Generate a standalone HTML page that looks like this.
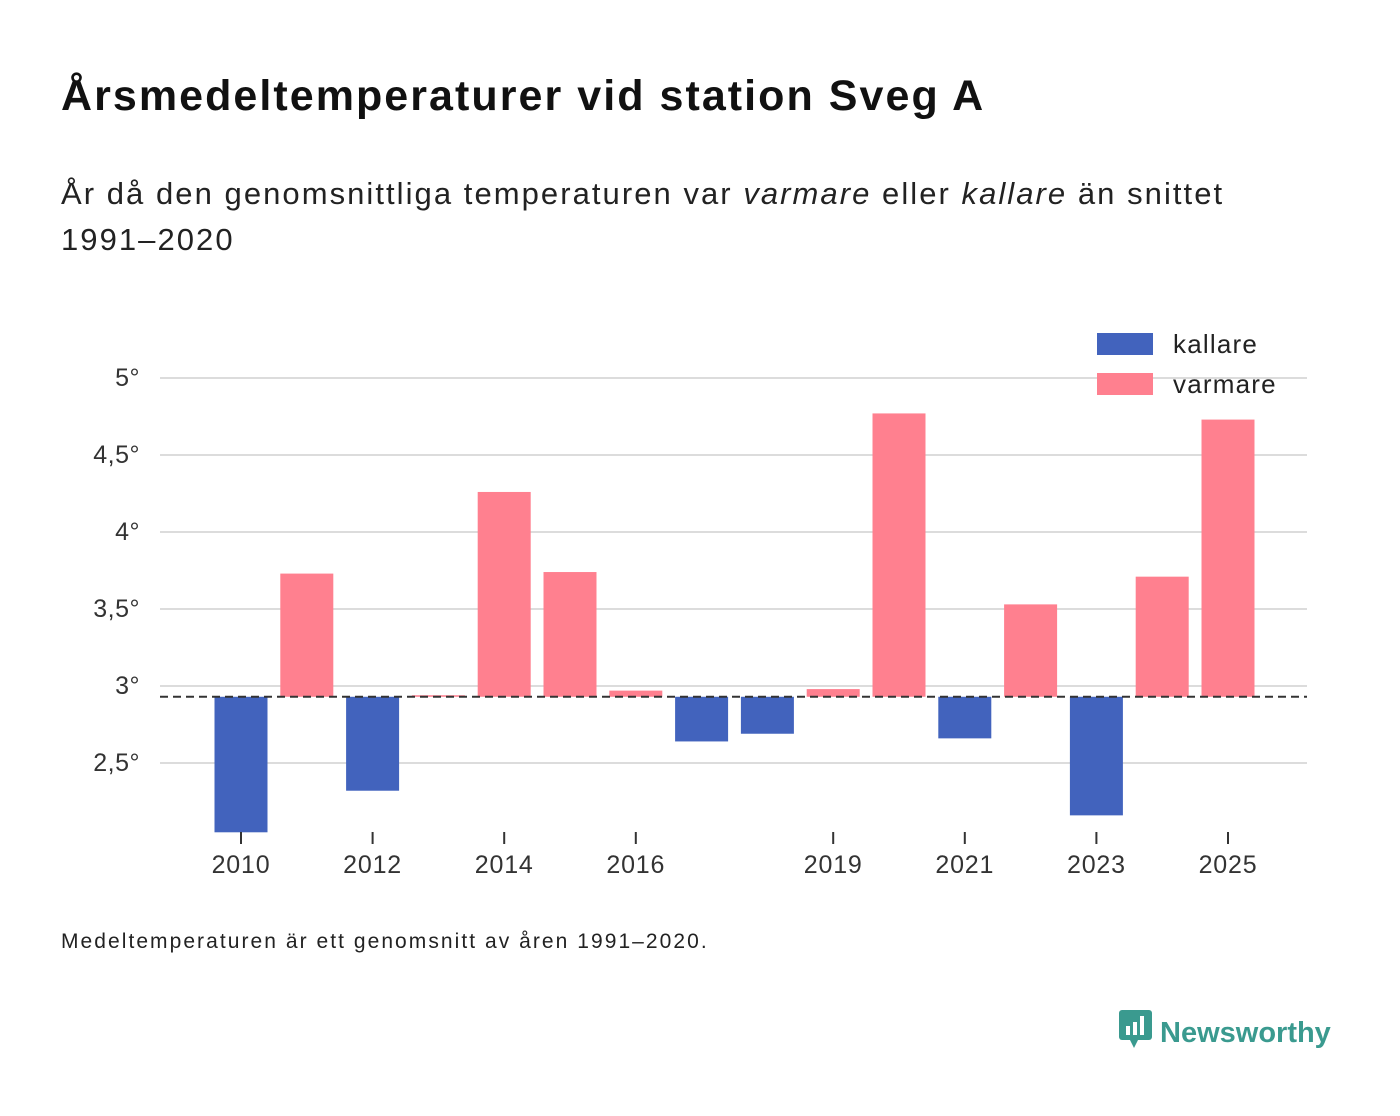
<!DOCTYPE html>
<html><head><meta charset="utf-8">
<style>
body{margin:0;background:#fff;font-family:"Liberation Sans","DejaVu Sans",sans-serif;}
#wrap{position:relative;width:1400px;height:1116px;overflow:hidden;}
h1{position:absolute;left:61px;top:72px;margin:0;font-size:43px;letter-spacing:2.05px;font-weight:bold;color:#111;white-space:nowrap;}
.sub{position:absolute;left:61px;top:171px;margin:0;font-size:31px;letter-spacing:2.05px;line-height:46px;color:#222;width:1300px;}
.foot{position:absolute;left:61px;top:930px;font-size:21px;letter-spacing:2.05px;color:#222;white-space:nowrap;}
.logo{position:absolute;left:1118px;top:1008px;font-size:29px;font-weight:bold;color:#3a9a8f;}
</style></head><body>
<div id="wrap">
<h1>Årsmedeltemperaturer vid station Sveg A</h1>
<p class="sub">År då den genomsnittliga temperaturen var <i>varmare</i> eller <i>kallare</i> än snittet<br>1991–2020</p>
<svg id="chart" width="1400" height="1116" style="position:absolute;left:0;top:0"></svg>
<div class="foot">Medeltemperaturen är ett genomsnitt av åren 1991–2020.</div>
<div class="logo"><svg width="36" height="42" style="vertical-align:-8px;margin-right:6px"><rect x="1" y="2" width="33" height="30" rx="3" fill="#3a9a8f"/><polygon points="12,32 20,32 16,40" fill="#3a9a8f"/><rect x="8" y="18" width="4" height="9" fill="#fff"/><rect x="15" y="14" width="4" height="13" fill="#fff"/><rect x="22" y="8" width="4" height="19" fill="#fff"/></svg>Newsworthy</div>
</div>
<script>
const years=[2010,2011,2012,2013,2014,2015,2016,2017,2018,2019,2020,2021,2022,2023,2024,2025];
const temps=[2.05,3.73,2.32,2.94,4.26,3.74,2.97,2.64,2.69,2.98,4.77,2.66,3.53,2.16,3.71,4.73];
const baseline=2.93;
const yTicks=[2.5,3,3.5,4,4.5,5];
const yTickLabels=["2,5°","3°","3,5°","4°","4,5°","5°"];
const xTicks=[2010,2012,2014,2016,2019,2021,2023,2025];
const legendLabels=["kallare","varmare"];
const colors={cold:"#4263bd",warm:"#ff808f"};
const NS="http://www.w3.org/2000/svg";
const svg=document.getElementById('chart');
const y=v=>686-(v-3)*154;
const x=yr=>241+(yr-2010)*65.8;
function mk(tag,attrs){const e=document.createElementNS(NS,tag);for(const k in attrs)e.setAttribute(k,attrs[k]);svg.appendChild(e);return e;}
yTicks.forEach((t,i)=>{
 const g=mk('line',{x1:160,x2:1307,y1:y(t),y2:y(t),stroke:'#dcdcdc','stroke-width':2});
 
 
 const l=mk('text',{x:140,y:y(t)+8,'text-anchor':'end','font-size':25,fill:'#333','letter-spacing':0.5});
 l.textContent=yTickLabels[i];
 
 
});
years.forEach((yr,i)=>{
 const v=temps[i];const top=Math.min(y(v),y(baseline)),h=Math.abs(y(v)-y(baseline));
 const r=mk('rect',{x:x(yr)-26.5,y:top,width:53,height:Math.max(h,1),fill:v<baseline?colors.cold:colors.warm});
 
 
});
const bl=mk('line',{x1:160,x2:1307,y1:y(baseline),y2:y(baseline),stroke:'#333','stroke-width':2,'stroke-dasharray':'8,5'});


xTicks.forEach(yr=>{
 const t=mk('line',{x1:x(yr),x2:x(yr),y1:832,y2:844,stroke:'#333','stroke-width':2});
 
 
 const l=mk('text',{x:x(yr),y:873,'text-anchor':'middle','font-size':25,fill:'#333','letter-spacing':0.8});
 l.textContent=yr;
 
 
});
legendLabels.forEach((lab,i)=>{
 const s=mk('rect',{x:1097,y:333+i*40,width:56,height:22,fill:i?colors.warm:colors.cold});
 
 
 const t=mk('text',{x:1173,y:353+i*40,'font-size':26,fill:'#222','letter-spacing':1.2});
 t.textContent=lab;
 
 
});
</script>
</body></html>
